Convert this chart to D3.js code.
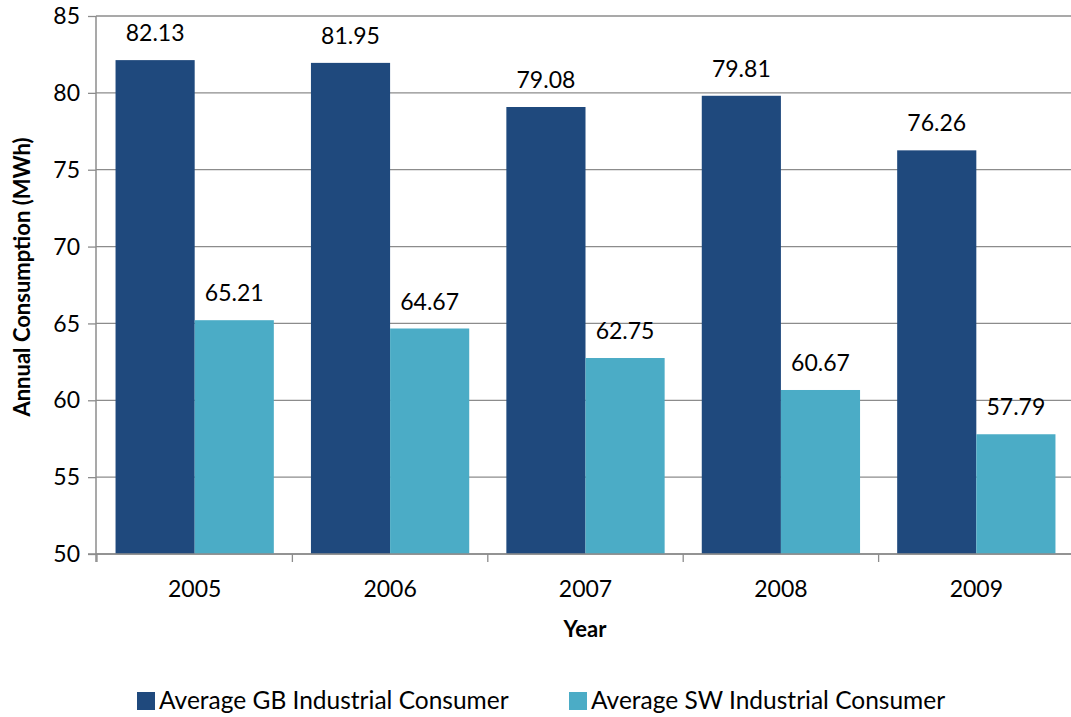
<!DOCTYPE html>
<html>
<head>
<meta charset="utf-8">
<script src="https://cdn.jsdelivr.net/npm/d3@7"></script>
<style>
  body { margin: 0; background: #fff; overflow: hidden; }
  text { font-family: Lato, "Open Sans", sans-serif; fill: #000; }
</style>
</head>
<body>
<div class="chart"></div>
<script>
const years = ['2005', '2006', '2007', '2008', '2009'];
const gbValues = [82.13, 81.95, 79.08, 79.81, 76.26];
const swValues = [65.21, 64.67, 62.75, 60.67, 57.79];
const seriesNames = ['Average GB Industrial Consumer', 'Average SW Industrial Consumer'];
const seriesColors = ['#1F497D', '#4BACC6'];
const yTicks = [50, 55, 60, 65, 70, 75, 80, 85];

const width = 1071;
const height = 717;
// plot runs a little past the right edge of the picture, as in the original
const margin = {top: 16, right: -4, bottom: 163, left: 96};

const svg = d3.select('.chart')
	.append('svg')
	.attr('width', width)
	.attr('height', height)
	.style('display', 'block');

const plotRight = width - margin.right;

const x = d3.scaleBand()
	.domain(years)
	.range([margin.left, plotRight])
	.paddingInner(0.19)
	.paddingOuter(0.1);

const xSub = d3.scaleBand()
	.domain([0, 1])
	.range([0, x.bandwidth()]);

const y = d3.scaleLinear()
	.domain([50, 85])
	.range([height - margin.bottom, margin.top]);

// gridlines
svg.append('g')
	.selectAll('line')
	.data(yTicks)
	.enter()
	.append('line')
	.attr('x1', margin.left)
	.attr('x2', plotRight)
	.attr('y1', d => y(d))
	.attr('y2', d => y(d))
	.attr('stroke', '#8c8c8c')
	.attr('stroke-width', 1.3);

const rows = years.map((yr, i) => ({year: yr, values: [gbValues[i], swValues[i]]}));

const groups = svg.selectAll('g.year')
	.data(rows)
	.enter()
	.append('g')
	.attr('class', 'year')
	.attr('transform', d => `translate(${x(d.year)},0)`);

groups.selectAll('rect')
	.data(d => d.values)
	.enter()
	.append('rect')
	.attr('x', (d, i) => xSub(i))
	.attr('y', d => y(d))
	.attr('width', xSub.bandwidth())
	.attr('height', d => y(50) - y(d))
	.attr('fill', (d, i) => seriesColors[i]);

groups.selectAll('text')
	.data(d => d.values)
	.enter()
	.append('text')
	.text(d => d.toFixed(2))
	.attr('x', (d, i) => xSub(i) + xSub.bandwidth() / 2)
	.attr('y', d => y(d) - 19)
	.attr('text-anchor', 'middle')
	.attr('font-size', 23);

// y axis
const yAxis = svg.append('g')
	.attr('transform', `translate(${margin.left},0)`)
	.call(d3.axisLeft(y).tickValues(yTicks).tickSize(8).tickPadding(8));
yAxis.select('.domain').remove();
yAxis.selectAll('text').attr('font-size', 23).attr('font-family', 'Lato, sans-serif').attr('dy', '0.33em');
yAxis.selectAll('line').attr('stroke', '#8c8c8c').attr('stroke-width', 1.3);
svg.append('line')
	.attr('x1', margin.left)
	.attr('x2', margin.left)
	.attr('y1', y(85))
	.attr('y2', y(50) + 8)
	.attr('stroke', '#8c8c8c')
	.attr('stroke-width', 1.5);

// x axis with ticks between categories
const xAxisG = svg.append('g')
	.attr('transform', `translate(0,${y(50)})`);
xAxisG.append('line')
	.attr('x1', margin.left - 8)
	.attr('x2', plotRight)
	.attr('stroke', '#8c8c8c')
	.attr('stroke-width', 1.5);
const bounds = years.map(d => x(d) - x.step() * x.paddingInner() / 2);
xAxisG.selectAll('line.tick')
	.data(bounds)
	.enter()
	.append('line')
	.attr('class', 'tick')
	.attr('x1', d => d)
	.attr('x2', d => d)
	.attr('y1', 0)
	.attr('y2', 8)
	.attr('stroke', '#8c8c8c')
	.attr('stroke-width', 1.3);
xAxisG.selectAll('text')
	.data(years)
	.enter()
	.append('text')
	.text(d => d)
	.attr('x', d => x(d) + x.bandwidth() / 2)
	.attr('y', 43)
	.attr('text-anchor', 'middle')
	.attr('font-size', 23);

// axis titles
svg.append('text')
	.text('Year')
	.attr('x', 585)
	.attr('y', 637)
	.attr('text-anchor', 'middle')
	.attr('font-size', 22)
	.attr('font-weight', 'bold');

svg.append('text')
	.text('Annual Consumption (MWh)')
	.attr('transform', `translate(30,277) rotate(-90)`)
	.attr('text-anchor', 'middle')
	.attr('font-size', 22)
	.attr('font-weight', 'bold');

// legend
const legendX = [137, 569];
const legend = svg.selectAll('g.legend')
	.data(seriesNames)
	.enter()
	.append('g')
	.attr('class', 'legend')
	.attr('transform', (d, i) => `translate(${legendX[i]},692)`);
legend.append('rect')
	.attr('width', 18)
	.attr('height', 18)
	.attr('fill', (d, i) => seriesColors[i]);
legend.append('text')
	.text(d => d)
	.attr('x', 22)
	.attr('y', 17)
	.attr('font-size', 24.5);
</script>
</body>
</html>
